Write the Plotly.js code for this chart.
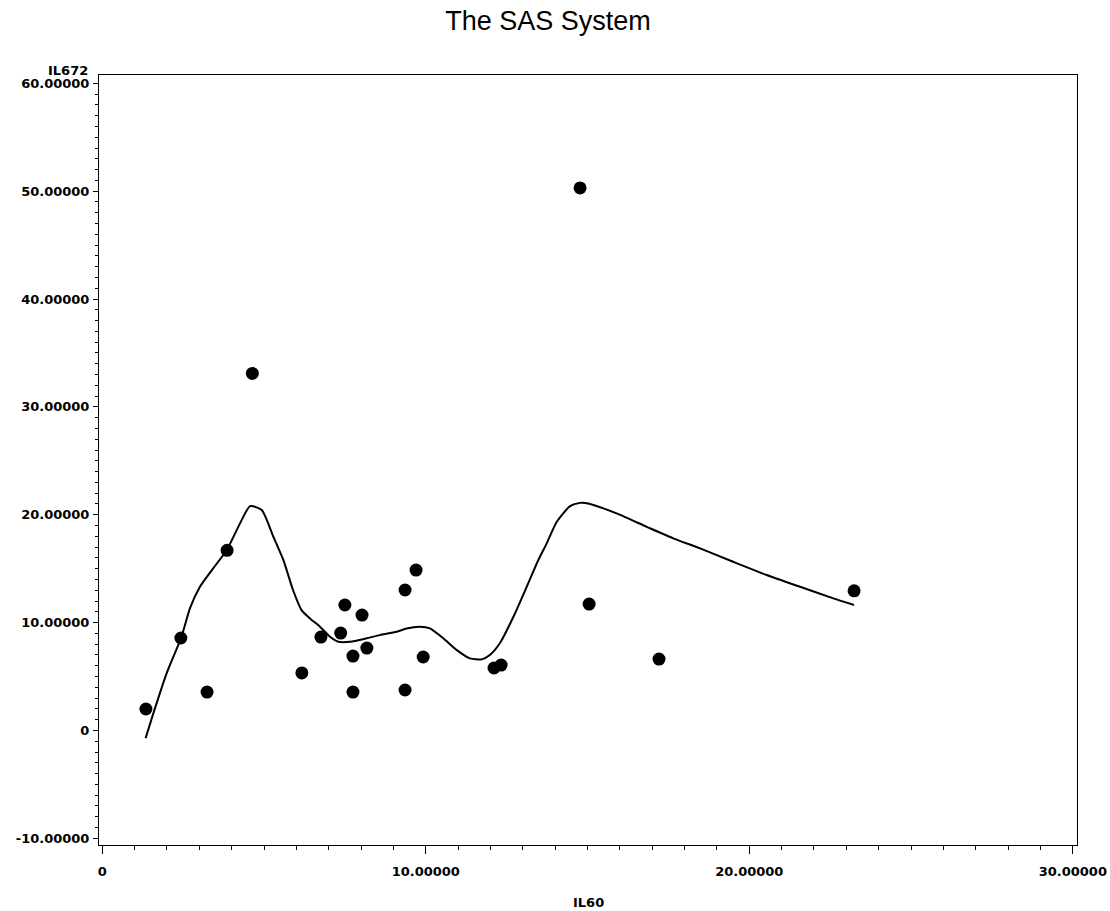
<!DOCTYPE html>
<html>
<head>
<meta charset="utf-8">
<script src="https://cdn.plot.ly/plotly-3.0.1.min.js"></script>
<style>html,body{margin:0;padding:0;background:#fff;}#chart{width:1110px;height:911px;}</style>
</head>
<body>
<div id="chart"></div>
<script>
// Observed points: IL60 (x) vs IL672 (y)
var il60 = [1.35, 2.43, 3.24, 3.86, 4.64, 6.17, 6.76, 7.37, 7.50, 7.75, 7.75, 8.03, 8.18, 9.36, 9.36, 9.70, 9.92, 12.11, 12.33, 14.77, 15.05, 17.21, 23.24];
var il672 = [1.99, 8.57, 3.56, 16.7, 33.1, 5.33, 8.66, 9.03, 11.63, 6.90, 3.56, 10.70, 7.64, 13.02, 3.75, 14.87, 6.81, 5.79, 6.06, 50.3, 11.72, 6.62, 12.95];

// Smoothed curve
var smoothX = [1.34, 1.58, 1.99, 2.45, 2.71, 3.02, 3.43, 3.85, 4.26, 4.57, 4.93, 5.29, 5.60, 5.90, 6.16, 6.42, 6.73, 7.04, 7.30, 7.66, 8.17, 8.58, 9.10, 9.41, 9.82, 10.13, 10.54, 10.96, 11.37, 11.73, 11.98, 12.29, 12.71, 13.12, 13.48, 13.74, 14.05, 14.46, 14.77, 15.02, 15.90, 16.83, 17.65, 18.48, 19.50, 20.54, 21.57, 22.60, 23.24];
var smoothY = [-0.73, 1.58, 5.29, 8.69, 11.32, 13.32, 15.03, 16.73, 19.2, 20.8, 20.43, 17.96, 15.8, 13.0, 11.16, 10.39, 9.62, 8.69, 8.22, 8.22, 8.54, 8.84, 9.15, 9.46, 9.62, 9.46, 8.54, 7.45, 6.68, 6.59, 6.99, 8.08, 10.54, 13.32, 15.8, 17.35, 19.35, 20.8, 21.1, 21.05, 20.12, 18.88, 17.81, 16.88, 15.64, 14.41, 13.32, 12.25, 11.63];

var xTickVals = [0, 10, 20, 30];
var xTickText = ["0", "10.00000", "20.00000", "30.00000"];
var yTickVals = [-10, 0, 10, 20, 30, 40, 50, 60];
var yTickText = ["-10.00000", "0", "10.00000", "20.00000", "30.00000", "40.00000", "50.00000", "60.00000"];

var tickFont = {family: "DejaVu Sans", size: 13, color: "#000", weight: "bold"};

var traces = [
  {x: smoothX, y: smoothY, type: "scatter", mode: "lines",
   line: {color: "#000", width: 2, shape: "spline", smoothing: 0.6}, hoverinfo: "skip"},
  {x: il60, y: il672, type: "scatter", mode: "markers",
   marker: {color: "#000", size: 13, symbol: "circle"}}
];

var layout = {
  width: 1110, height: 911,
  paper_bgcolor: "#fff", plot_bgcolor: "#fff",
  showlegend: false,
  margin: {l: 99, r: 33, t: 75, b: 66},
  title: {text: "The SAS System", font: {family: "Liberation Sans", size: 27, color: "#000"},
          xref: "container", x: 0.4937, xanchor: "center", yref: "container", y: 0.977, yanchor: "middle"},
  xaxis: {range: [-0.1, 30.13], tickmode: "array", tickvals: xTickVals, ticktext: xTickText,
          ticks: "outside", ticklen: 8, tickwidth: 1, tickcolor: "#000",
          showline: true, linecolor: "#000", linewidth: 1, mirror: true,
          showgrid: false, zeroline: false, tickfont: tickFont, ticklabelstandoff: 6,
          minor: {dtick: 1, tick0: 0, ticks: "outside", ticklen: 4, tickcolor: "#000", showgrid: false}},
  yaxis: {range: [-10.62, 60.77], tickmode: "array", tickvals: yTickVals, ticktext: yTickText,
          ticks: "outside", ticklen: 5, tickwidth: 1, tickcolor: "#000",
          showline: true, linecolor: "#000", linewidth: 1, mirror: true,
          showgrid: false, zeroline: false, tickfont: tickFont, ticklabelstandoff: 1,
          minor: {dtick: 1, tick0: 0, ticks: "outside", ticklen: 3, tickcolor: "#000", showgrid: false}},
  annotations: [
    {text: "IL672", xref: "paper", yref: "paper", x: 0, y: 1, xanchor: "right", yanchor: "middle",
     xshift: -9, yshift: 5, showarrow: false, font: tickFont},
    {text: "IL60", xref: "paper", yref: "paper", x: 0.5, y: 0, xanchor: "center", yanchor: "middle",
     yshift: -57, showarrow: false, font: tickFont}
  ]
};

Plotly.newPlot("chart", traces, layout, {displayModeBar: false, staticPlot: true});
</script>
</body>
</html>
